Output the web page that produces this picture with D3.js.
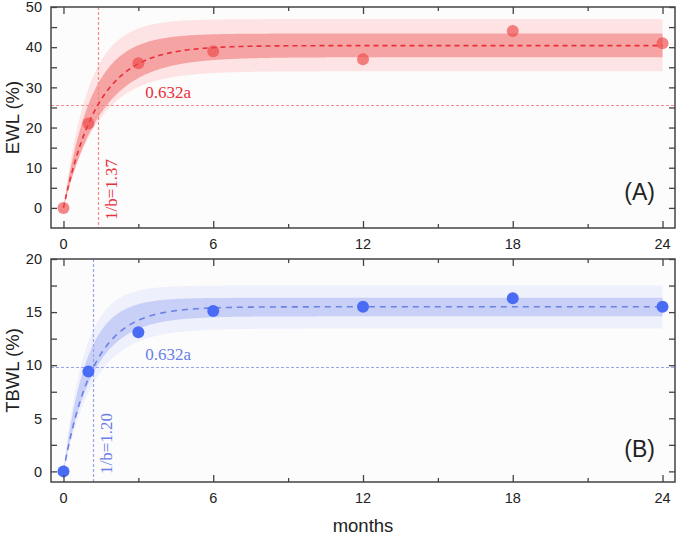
<!DOCTYPE html>
<html>
<head>
<meta charset="utf-8">
<script src="https://cdn.jsdelivr.net/npm/d3@7"></script>
<style>
  html, body { margin: 0; padding: 0; background: #fff; }
</style>
</head>
<body>
<div id="chart"></div>
<script>
// measured values
const months = [0, 1, 3, 6, 12, 18, 24];
const ewl = [0, 21, 36, 39, 37, 44, 41];
const tbwl = [0, 9.4, 13.1, 15.1, 15.5, 16.3, 15.5];

// fit y = a(1 - exp(-b t)) : [a, 1/b]
const ewlFit = [40.4, 1.37];
const tbwlFit = [15.5, 1.20];

// band edges: [a, b] for lower and upper edges
const ewlInner = [[37.5, 0.66], [43.4, 0.9]];
const ewlOuter = [[34, 0.72], [47, 1.0]];
const tbwlInner = [[14.6, 0.84], [16.35, 1.1]];
const tbwlOuter = [[13.45, 0.8], [17.5, 1.2]];

const xTicks = [0, 6, 12, 18, 24];
const xMinor = [3, 9, 15, 21];
const ewlTicks = [0, 10, 20, 30, 40, 50];
const tbwlTicks = [0, 5, 10, 15, 20];

function drawChart() {
  const width = 685;
  const height = 536;
  const left = 51, right = 675;
  const tickFont = "Liberation Sans, Arial, sans-serif";
  const serif = "Liberation Serif, DejaVu Serif, serif";
  const frame = "#444";

  const svg = d3.select("#chart").append("svg")
    .attr("width", width)
    .attr("height", height);

  const x = d3.scaleLinear().domain([-0.5, 24.5]).range([left, right]);
  const tSteps = d3.range(0, 24.001, 0.05);
  const model = (p, t) => p[0] * (1 - Math.exp(-p[1] * t));

  const panels = [
    {
      values: ewl, fit: ewlFit, inner: ewlInner, outer: ewlOuter,
      domain: [-5, 50], top: 7, bottom: 228, ticks: ewlTicks, step: 5,
      title: "EWL (%)", tag: "(A)", tagY: 200,
      dot: "#ee4747", dotOpacity: 0.65, line: "#e8303a", innerFill: "#f6a3a3", outerFill: "#fde3e3",
      refLine: "#f48a8a", text: "#e8303a", dash: "5,4"
    },
    {
      values: tbwl, fit: tbwlFit, inner: tbwlInner, outer: tbwlOuter,
      domain: [-1, 20], top: 259, bottom: 482, ticks: tbwlTicks, step: 2.5,
      title: "TBWL (%)", tag: "(B)", tagY: 457,
      dot: "#4a6cf5", dotOpacity: 1, line: "#6c80e6", innerFill: "#c9d0f7", outerFill: "#eef0fb",
      refLine: "#9aa5ea", text: "#6a7ee8", dash: "6,5"
    }
  ];

  panels.forEach(p => {
    const y = d3.scaleLinear().domain(p.domain).range([p.bottom, p.top]);
    const g = svg.append("g");
    const a = p.fit[0], b = 1 / p.fit[1];

    g.append("rect")
      .attr("x", left).attr("y", p.top)
      .attr("width", right - left).attr("height", p.bottom - p.top)
      .attr("fill", "#fcfcfc");

    // bands
    [[p.outer, p.outerFill], [p.inner, p.innerFill]].forEach(([band, fill]) => {
      const area = d3.area()
        .x(t => x(t))
        .y0(t => y(model(band[0], t)))
        .y1(t => y(model(band[1], t)));
      g.append("path")
        .attr("d", area(tSteps))
        .attr("fill", fill);
    });

    // reference lines
    const yRef = Math.round(y(0.632 * a)) + 0.5;
    const xRef = Math.round(x(1 / b)) + 0.5;
    g.append("line")
      .attr("x1", left).attr("x2", right)
      .attr("y1", yRef).attr("y2", yRef)
      .attr("stroke", p.refLine).attr("stroke-width", 1.2)
      .attr("stroke-dasharray", "3,2");
    g.append("line")
      .attr("x1", xRef).attr("x2", xRef)
      .attr("y1", p.top).attr("y2", p.bottom)
      .attr("stroke", p.refLine).attr("stroke-width", 1.2)
      .attr("stroke-dasharray", "3,2");

    // fit line
    const line = d3.line()
      .x(t => x(t))
      .y(t => y(a * (1 - Math.exp(-b * t))));
    g.append("path")
      .attr("d", line(tSteps))
      .attr("fill", "none")
      .attr("stroke", p.line)
      .attr("stroke-width", 1.6)
      .attr("stroke-dasharray", p.dash);

    // points
    g.selectAll("circle")
      .data(months)
      .join("circle")
      .attr("cx", d => x(d))
      .attr("cy", (d, i) => y(p.values[i]))
      .attr("r", 6)
      .attr("fill", p.dot)
      .attr("fill-opacity", p.dotOpacity);

    // annotations
    g.append("text")
      .attr("x", x(3.28))
      .attr("y", y(0.632 * a) - 7)
      .attr("font-family", serif)
      .attr("font-size", 17)
      .attr("fill", p.text)
      .text("0.632a");
    g.append("text")
      .attr("transform", `translate(${x(1 / b) + 19},${p.bottom - 8}) rotate(-90)`)
      .attr("font-family", serif)
      .attr("font-size", 17)
      .attr("fill", p.text)
      .text(`1/b=${p.fit[1].toFixed(2)}`);

    // frame
    g.append("rect")
      .attr("x", left).attr("y", p.top)
      .attr("width", right - left).attr("height", p.bottom - p.top)
      .attr("fill", "none")
      .attr("stroke", frame)
      .attr("stroke-width", 1.5);

    // axes (ticks inward)
    const yAll = d3.range(p.domain[0] < 0 ? 0 : p.domain[0], p.domain[1] + 0.001, p.step);
    g.append("g")
      .attr("transform", `translate(${left},0)`)
      .call(d3.axisRight(y).tickValues(yAll).tickSize(6).tickFormat(""))
      .call(s => s.select(".domain").remove())
      .selectAll("line").attr("stroke", frame).attr("stroke-width", 1.3);
    g.append("g")
      .attr("transform", `translate(${right},0)`)
      .call(d3.axisLeft(y).tickValues(yAll).tickSize(6).tickFormat(""))
      .call(s => s.select(".domain").remove())
      .selectAll("line").attr("stroke", frame).attr("stroke-width", 1.3);
    g.selectAll("text.ylab")
      .data(p.ticks)
      .join("text")
      .attr("class", "ylab")
      .attr("x", left - 9)
      .attr("y", d => y(d))
      .attr("dy", "0.36em")
      .attr("text-anchor", "end")
      .attr("font-family", tickFont)
      .attr("font-size", 14.5)
      .attr("fill", "#222")
      .text(d => d);

    [[xTicks, 7], [xMinor, 4]].forEach(([vals, len]) => {
      g.append("g")
        .attr("transform", `translate(0,${p.bottom})`)
        .call(d3.axisTop(x).tickValues(vals).tickSize(len).tickFormat(""))
        .call(s => s.select(".domain").remove())
        .selectAll("line").attr("stroke", frame).attr("stroke-width", 1.3);
      g.append("g")
        .attr("transform", `translate(0,${p.top})`)
        .call(d3.axisBottom(x).tickValues(vals).tickSize(len).tickFormat(""))
        .call(s => s.select(".domain").remove())
        .selectAll("line").attr("stroke", frame).attr("stroke-width", 1.3);
    });
    g.selectAll("text.xlab")
      .data(xTicks)
      .join("text")
      .attr("class", "xlab")
      .attr("x", d => x(d))
      .attr("y", p.bottom + 21)
      .attr("text-anchor", "middle")
      .attr("font-family", tickFont)
      .attr("font-size", 14.5)
      .attr("fill", "#222")
      .text(d => d);

    // titles
    g.append("text")
      .attr("transform", `translate(19,${(p.top + p.bottom) / 2}) rotate(-90)`)
      .attr("text-anchor", "middle")
      .attr("font-family", tickFont)
      .attr("font-size", 18.5)
      .attr("fill", "#222")
      .text(p.title);
    g.append("text")
      .attr("x", 655)
      .attr("y", p.tagY)
      .attr("text-anchor", "end")
      .attr("font-family", tickFont)
      .attr("font-size", 23)
      .attr("fill", "#222")
      .text(p.tag);
  });

  svg.append("text")
    .attr("x", 363)
    .attr("y", 532)
    .attr("text-anchor", "middle")
    .attr("font-family", tickFont)
    .attr("font-size", 18.5)
    .attr("fill", "#222")
    .text("months");
}

drawChart();
</script>
</body>
</html>
